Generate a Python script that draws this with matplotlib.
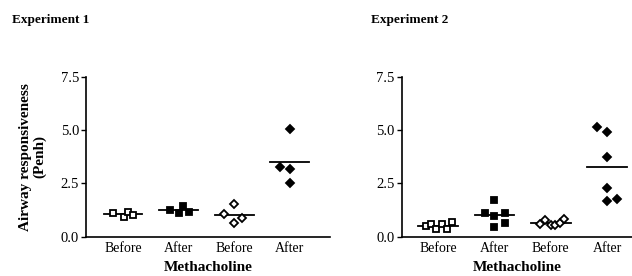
import matplotlib.pyplot as plt

plt.rcParams['font.family'] = ['Liberation Serif', 'DejaVu Serif']

groups = ['Before', 'After', 'Before', 'After']

# Experiment 1: Penh values per group, with horizontal scatter offsets
exp1_values = [
    [1.12, 0.91, 1.17, 1.00],
    [1.25, 1.12, 1.44, 1.16],
    [1.05, 1.52, 0.66, 0.89],
    [5.05, 3.25, 3.16, 2.50],
]
exp1_offsets = [
    [-0.18, 0.02, 0.09, 0.18],
    [-0.16, 0.00, 0.08, 0.18],
    [-0.18, 0.00, 0.00, 0.14],
    [0.00, -0.18, 0.00, 0.00],
]

# Experiment 2
exp2_values = [
    [0.52, 0.60, 0.35, 0.60, 0.38, 0.69],
    [1.72, 1.13, 0.97, 1.13, 0.44, 0.63],
    [0.60, 0.78, 0.55, 0.55, 0.63, 0.82],
    [5.16, 4.92, 3.72, 2.30, 1.67, 1.75],
]
exp2_offsets = [
    [-0.22, -0.12, -0.04, 0.07, 0.15, 0.24],
    [0.00, -0.17, 0.00, 0.18, 0.00, 0.18],
    [-0.20, -0.10, 0.00, 0.08, 0.16, 0.24],
    [-0.18, 0.00, 0.00, 0.00, 0.00, 0.17],
]

# marker style per group: open square, filled square, open diamond, filled diamond
styles = [('s', 'white', 5.0), ('s', 'black', 5.0), ('D', 'white', 4.3), ('D', 'black', 4.3)]

fig = plt.figure(figsize=(6.32, 2.76), dpi=100)
ax1 = fig.add_axes([86 / 632, 39.3 / 276, 244 / 632, 160 / 276])
ax2 = fig.add_axes([401.7 / 632, 39.3 / 276, 230.3 / 632, 160 / 276])


def draw_panel(ax, values, offsets, xlim):
    for i, (vals, offs) in enumerate(zip(values, offsets)):
        pos = i + 1
        m, fc, ms = styles[i]
        mean = sum(vals) / len(vals)
        ax.plot([pos - 0.35, pos + 0.35], [mean, mean], color='black', lw=1.3, zorder=2)
        ax.plot([pos + o for o in offs], vals, linestyle='none', marker=m, ms=ms,
                mfc=fc, mec='black', mew=1.3, zorder=3, clip_on=False)
    ax.set_xlim(*xlim)
    ax.set_ylim(0, 7.5)
    ax.set_yticks([0, 2.5, 5.0, 7.5])
    ax.set_yticklabels(['0.0', '2.5', '5.0', '7.5'])
    ax.set_xticks([1, 2, 3, 4])
    ax.set_xticklabels(groups)
    ax.tick_params(axis='x', length=0, pad=4, labelsize=10)
    ax.tick_params(axis='y', length=3.5, width=1, pad=1.5, labelsize=10.5, direction='out')
    for s in ['top', 'right']:
        ax.spines[s].set_visible(False)
    for s in ['left', 'bottom']:
        ax.spines[s].set_linewidth(1.2)
    ax.set_xlabel('Methacholine', fontweight='bold', fontsize=11, labelpad=4)


draw_panel(ax1, exp1_values, exp1_offsets, (0.335, 4.72))
draw_panel(ax2, exp2_values, exp2_offsets, (0.355, 4.44))

fig.text(33 / 632, 1 - 157 / 276, 'Airway responsiveness\n(Penh)', fontweight='bold',
         fontsize=11, rotation=90, ha='center', va='center', linespacing=1.05)

fig.text(12 / 632, 1 - 20 / 276, 'Experiment 1', fontweight='bold', fontsize=9.5, va='center')
fig.text(371 / 632, 1 - 20 / 276, 'Experiment 2', fontweight='bold', fontsize=9.5, va='center')

fig.savefig('out.png', dpi=100)
